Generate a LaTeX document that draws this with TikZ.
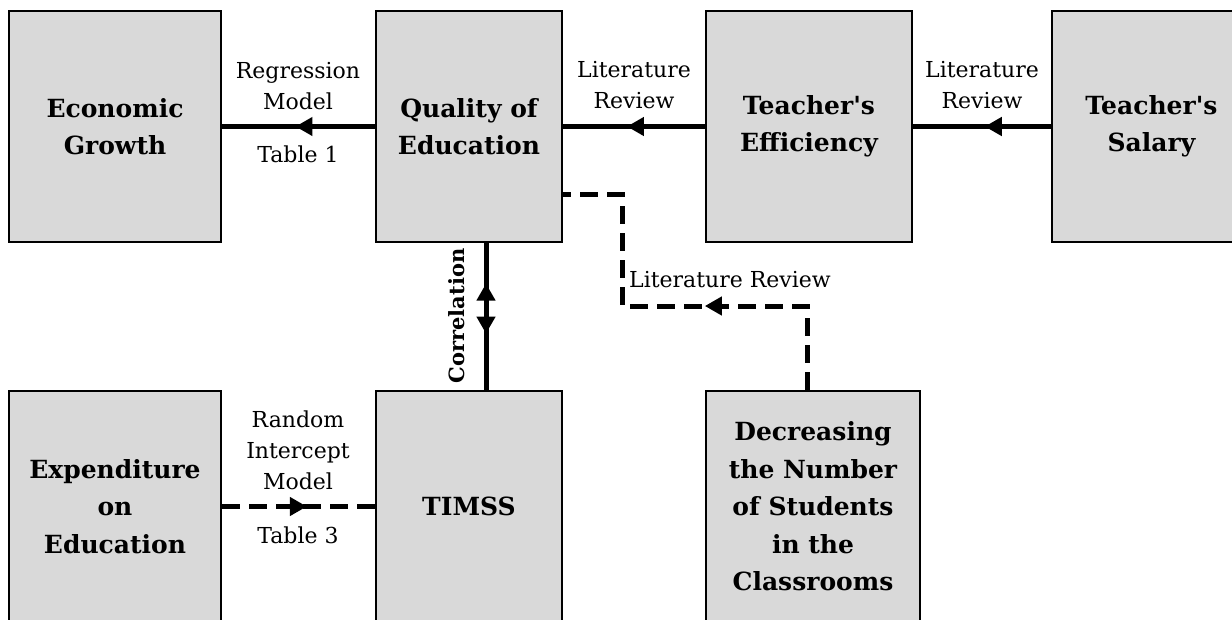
\documentclass[tikz,border=0pt]{standalone}
\usepackage{fontspec}
\setmainfont{DejaVu Serif}
\usetikzlibrary{arrows.meta,decorations.markings}
\definecolor{boxgray}{HTML}{D9D9D9}
\font\aposB="DejaVu Serif/B" at 25pt
\newcommand{\sq}{{\aposB'}}
\tikzset{
  box/.style={draw=black, fill=boxgray, line width=2.6pt, inner sep=0pt,
    minimum height=231pt, align=center,
    font=\bfseries\fontsize{25}{37.5}\selectfont},
  lbl/.style={inner sep=0pt, align=center, font=\fontsize{22}{31}\selectfont},
  conn/.style={line width=5pt},
  dconn/.style={line width=5pt, dash pattern=on 18pt off 9pt, line join=miter},
  midarrow/.style={postaction={decorate}, decoration={markings,
    mark=at position #1 with {\arrow{Triangle[length=17pt,width=18pt]}}}},
}
\begin{document}
\begin{tikzpicture}[x=1pt,y=-1pt]
\useasboundingbox (0,0) rectangle (1232,619);
\clip (0,0) rectangle (1232,619);
% top row
\node[box, minimum width=212pt] (eco) at (115,126.5) {Economic\\Growth};
\node[box, minimum width=186pt] (qual) at (469,126.5) {Quality of\\Education};
\node[box, minimum width=206pt] (eff) at (809,126.5) {Teacher\sq s\\Efficiency};
\node[box, minimum width=199pt] (sal) at (1151.5,126.5) {Teacher\sq s\\Salary};
% bottom row
\node[box, minimum width=212pt] (exp) at (115,506.5) {Expenditure\\on\\Education};
\node[box, minimum width=186pt] (timss) at (469,506.5) {TIMSS};
\node[box, minimum width=214pt] (dec) at (813,506.5) {Decreasing\\the Number\\of Students\\in the\\Classrooms};
% connectors
\draw[conn, midarrow=0.52] (qual.west) -- (eco.east);
\draw[conn, midarrow=0.55] (eff.west) -- (qual.east);
\draw[conn, midarrow=0.48] (sal.west) -- (eff.east);
\draw[dconn, midarrow=0.555] (exp.east) -- (timss.west);
\draw[conn, postaction={decorate}, decoration={markings,
    mark=at position 0.725 with {\arrow{Triangle[length=17pt,width=18pt]}},
    mark=at position 0.383 with {\arrowreversed{Triangle[length=17pt,width=18pt]}}}]
  ([xshift=17pt]timss.north) -- ([xshift=17pt]qual.south);
\coordinate (c1) at (622,194);
\coordinate (c2) at (622,306);
\coordinate (c3) at (807,306);
\draw[dconn, midarrow=0.423] (dec.north -| c3) -- (c3) -- (c2) -- (c1) -- (qual.east |- c1);
% labels
\node[lbl, anchor=south] (l1) at (298,110) {Regression\\Model};
\node[lbl, anchor=base] (l1b) at (298,162) {Table 1};
\node[lbl, anchor=south] (l2) at (634,109) {Literature\\Review};
\node[lbl, anchor=south] (l3) at (982,109) {Literature\\Review};
\node[lbl, anchor=base west] (l4) at (629,287) {Literature Review};
\node[lbl, anchor=south] (l5) at (298,490) {Random\\Intercept\\Model};
\node[lbl, anchor=base] (l6) at (298,543) {Table 3};
\node[rotate=90, inner sep=0pt, font=\bfseries\fontsize{21}{24}\selectfont] (corr) at (457,316) {Correlation};
\end{tikzpicture}
\end{document}
